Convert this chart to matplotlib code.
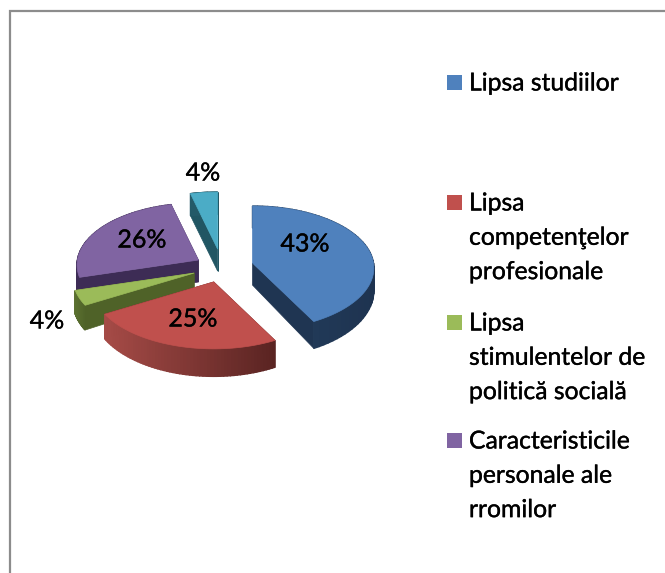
import numpy as np
import matplotlib
matplotlib.use("Agg")
import matplotlib.pyplot as plt
import matplotlib.patheffects as pe
from matplotlib.colors import to_rgb

# data
labels = ["Lipsa studiilor", "Lipsa\ncompetenţelor\nprofesionale",
          "Lipsa\nstimulentelor de\npolitică socială",
          "Caracteristicile\npersonale ale\nrromilor", ""]
values = [43, 25, 4, 26, 4]
explode = [0.26, 0.25, 0.25, 0.225, 0.29]

# style
colors = ["#4f81bd", "#c0504d", "#9bbb59", "#8064a2", "#4bacc6"]
wall_left = ["#24405f", "#a64b47", "#5a7030", "#3d2c55", "#245a68"]    # wall colour at the left end
wall_right = ["#1e3350", "#5a2422", "#4f6228", "#3d2c55", "#245a68"]   # wall colour at the right end
radial_colors = ["#1f3552", "#5a2422", "#4f6228", "#3d2c55", "#215663"]
draw_order = [4, 3, 2, 1, 0]

cx, cy = 222, 267
rx, ry = 121, 62
persp = 0.08
depth = 22

fig = plt.figure(figsize=(6.65, 5.73), dpi=100)
ax = fig.add_axes([0, 0, 1, 1])
ax.set_xlim(0, 665)
ax.set_ylim(573, 0)
ax.axis("off")

# chart border, only top and left fall inside the picture
ax.plot([10, 10, 665], [573, 11, 11], color="#8c8c8c", lw=1.6, solid_joinstyle="miter")


def project(theta, r, ox, oy):
    # theta clockwise from 12 o'clock, r in pie radii
    front = -np.cos(theta) * r
    scale = 1 + persp * front
    x = ox + rx * np.sin(theta) * r * scale
    y = oy + ry * front * scale
    return x, y


def wall_depth(theta, r):
    return depth * (1 + 0.25 * np.maximum(0, -np.cos(theta) * r))


shares = np.array(values) / sum(values)
edges = np.concatenate([[0], np.cumsum(shares)]) * 2 * np.pi

for i in draw_order:
    a0, a1 = edges[i], edges[i + 1]
    mid = (a0 + a1) / 2
    ox = cx + rx * np.sin(mid) * explode[i]
    oy = cy - ry * np.cos(mid) * explode[i]
    th = np.linspace(a0, a1, 60)
    ex, ey = project(th, 1, ox, oy)
    z = 2 + draw_order.index(i)

    # radial walls
    for k in (0, -1):
        d = wall_depth(th[k], 1)
        ax.fill([ox, ex[k], ex[k], ox], [oy, ey[k], ey[k] + d, oy + depth],
                color=radial_colors[i], lw=0.5, zorder=z)

    # outer wall in strips, shaded from left to right
    span = max(ex.max() - ex.min(), 1)
    c_left, c_right = np.array(to_rgb(wall_left[i])), np.array(to_rgb(wall_right[i]))
    for j in range(len(th) - 1):
        t = (ex[j] - ex.min()) / span
        d0, d1 = wall_depth(th[j], 1), wall_depth(th[j + 1], 1)
        ax.fill([ex[j], ex[j + 1], ex[j + 1], ex[j]],
                [ey[j], ey[j + 1], ey[j + 1] + d1, ey[j] + d0],
                color=tuple(c_left + (c_right - c_left) * t), lw=1, zorder=z)

    # top face
    ax.fill(np.r_[ox, ex], np.r_[oy, ey], color=colors[i], lw=0.5, zorder=z)

font = "Lato"
heavy = [pe.withStroke(linewidth=0.25, foreground="black")]
pie_labels = ["43%", "25%", "4%", "26%", "4%"]
label_x = [305, 193, 47, 142, 203]
label_y = [244, 319, 321, 240, 173]
for t, x, y in zip(pie_labels, label_x, label_y):
    ax.text(x, y, t, fontsize=18, family=font, ha="center", va="center", color="black",
            zorder=10, path_effects=heavy)

# legend
legend_y = [82, 202, 322, 440]
for i in range(4):
    ax.fill([447, 462, 462, 447],
            [legend_y[i] - 7.5, legend_y[i] - 7.5, legend_y[i] + 7.5, legend_y[i] + 7.5],
            color=colors[i], lw=0, zorder=10)
    for n, line in enumerate(labels[i].split("\n")):
        ax.text(469, legend_y[i] + 1 + n * 34.3, line, fontsize=17.8, family=font,
                ha="left", va="center", color="black", zorder=10, path_effects=heavy)

fig.savefig("out.png", dpi=100)
